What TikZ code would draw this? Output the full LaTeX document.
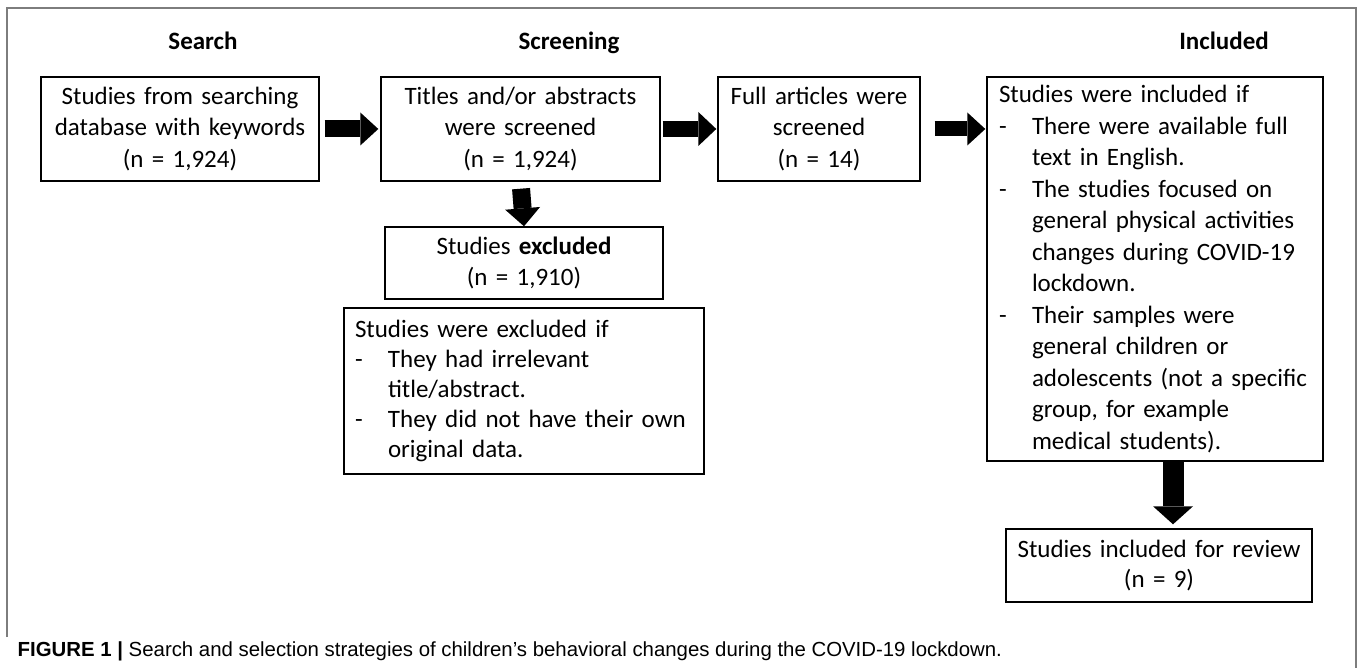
\documentclass[tikz,border=0pt]{standalone}
\usepackage{fontspec}
\setmainfont{Carlito}
\newfontfamily\capfont{Liberation Sans}
\usetikzlibrary{arrows.meta}
\tikzset{>=latex}
\definecolor{framegray}{RGB}{125,125,125}
\newcommand{\boxfont}{\fontsize{7.11pt}{8.96pt}\selectfont}
\newcommand{\smallboxfont}{\fontsize{7.11pt}{8.6pt}\selectfont}
\newcommand{\dashitem}[1]{\makebox[0.33cm][l]{-}#1}
\newcommand{\hangline}[1]{\hspace*{0.33cm}#1}

\begin{document}
\begin{tikzpicture}[y=-1cm,
  stage/.style={draw, line width=0.4pt, inner sep=0pt, font=\boxfont, align=center},
  heading/.style={font=\boxfont\bfseries, anchor=base, inner sep=0pt},
  fatarrow/.style 2 args={line width=#1, -{Triangle[length=0.18cm, width=#2, line width=0pt]}}]
\useasboundingbox (0,0) rectangle (13.58,6.68);
\draw[framegray, line width=0.6pt] (0.07,6.37) -- (0.07,0.08) -- (13.56,0.08) -- (13.56,6.68);

\node[heading] (hsearch) at (2.03,0.50) {Search};
\node[heading] (hscreen) at (5.69,0.50) {Screening};
\node[heading] (hincl) at (12.24,0.50) {Included};

\node[stage, text width=2.7cm, minimum width=2.78cm, minimum height=1.04cm] (search) at (1.80,1.29)
  {Studies from searching\\database with keywords\\(n = 1,924)};
\node[stage, text width=2.7cm, minimum width=2.79cm, minimum height=1.04cm] (titles) at (5.205,1.29)
  {Titles and/or abstracts\\were screened\\(n = 1,924)};
\node[stage, text width=1.95cm, minimum width=2.02cm, minimum height=1.04cm] (full) at (8.19,1.29)
  {Full articles were\\screened\\(n = 14)};
\node[stage, font=\smallboxfont, text width=2.7cm, minimum width=2.78cm, minimum height=0.72cm] (excl) at (5.24,2.63)
  {Studies \textbf{excluded}\\(n = 1,910)};
\node[stage, font=\smallboxfont, align=left, text width=3.38cm, inner xsep=0.11cm, minimum height=1.66cm] (exclif) at (5.24,3.91)
  {Studies were excluded if\\
   \dashitem{They had irrelevant}\\
   \hangline{title/abstract.}\\
   \dashitem{They did not have their own}\\
   \hangline{original data.}};
\node[stage, align=left, text width=3.12cm, inner xsep=0.12cm, minimum height=3.84cm] (inclif) at (11.55,2.69)
  {Studies were included if\\
   \dashitem{There were available full}\\
   \hangline{text in English.}\\
   \dashitem{The studies focused on}\\
   \hangline{general physical activities}\\
   \hangline{changes during COVID-19}\\
   \hangline{lockdown.}\\
   \dashitem{Their samples were}\\
   \hangline{general children or}\\
   \hangline{adolescents (not a specific}\\
   \hangline{group, for example}\\
   \hangline{medical students).}};
\node[stage, font=\smallboxfont, text width=3.0cm, minimum width=3.06cm, minimum height=0.73cm] (review) at (11.59,5.655)
  {Studies included for review\\(n = 9)};

% block arrows
\draw[fatarrow={0.17cm}{0.33cm}, shorten <=0.05cm, shorten >=0.02cm] (search.east) -- (titles.west);
\draw[fatarrow={0.16cm}{0.34cm}, shorten <=0.02cm, shorten >=0.01cm] (titles.east) -- (full.west);
\draw[fatarrow={0.15cm}{0.33cm}, shorten <=0.14cm, shorten >=0.01cm] (full.east) -- (full.east -| inclif.west);
\draw[fatarrow={0.18cm}{0.35cm}, shorten <=0.07cm] (titles.south) -- (excl.north);
\draw[fatarrow={0.21cm}{0.40cm}, shorten >=0.04cm] ([xshift=0.18cm]inclif.south) -- ([xshift=0.18cm]inclif.south |- review.north);

\node[anchor=base west, inner sep=0pt, font=\capfont\fontsize{5.8pt}{6.5pt}\selectfont] (caption) at (0.17,6.56)
  {\textbf{FIGURE 1 |} Search and selection strategies of children’s behavioral changes during the COVID-19 lockdown.};
\end{tikzpicture}
\end{document}
